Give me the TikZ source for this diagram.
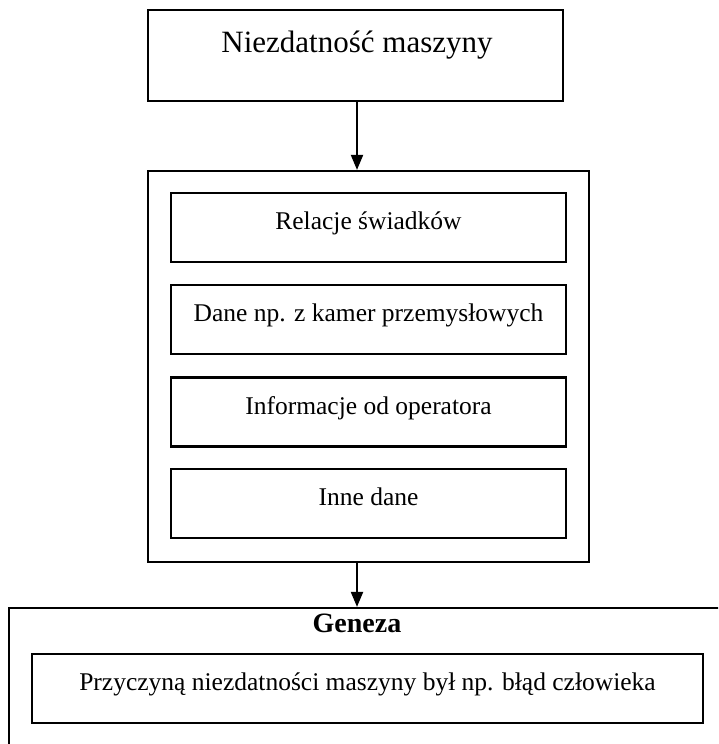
\documentclass[tikz,border=0pt]{standalone}
\usepackage{fontspec}
\setmainfont{Liberation Serif}
\usetikzlibrary{arrows.meta}
\tikzset{
  box/.style={draw, line width=2.2pt, rectangle, inner sep=0pt},
  link/.style={line width=2pt, -{Triangle[width=12pt,length=15pt]}},
  txt/.style={anchor=base, inner sep=0pt, font=\fontsize{25.5}{30}\selectfont},
}
\begin{document}
\begin{tikzpicture}[x=1pt,y=-1pt]
\useasboundingbox (0,0) rectangle (718,744);
\fill[white] (0,0) rectangle (718,744);
\clip (0,0) rectangle (718,744);

% top event
\node[box, minimum width=415pt, minimum height=91pt] (fail) at (355.5,55.5) {};
\node[txt, font=\fontsize{31}{36}\selectfont] (failt) at (357,52) {Niezdatność maszyny};

% evidence group
\node[box, minimum width=441pt, minimum height=391pt] (evid) at (368.5,366.5) {};
\node[box, minimum width=395pt, minimum height=69pt] (e1) at (368.5,227.5) {};
\node[box, minimum width=395pt, minimum height=69pt] (e2) at (368.5,319.5) {};
\node[box, minimum width=395pt, minimum height=69pt] (e3) at (368.5,412) {};
\node[box, minimum width=395pt, minimum height=69pt] (e4) at (368.5,503.5) {};
\node[txt] (e1t) at (368.5,229) {Relacje świadków};
\node[txt] (e2t) at (368.5,321) {Dane np. z kamer przemysłowych};
\node[txt] (e3t) at (368.5,414) {Informacje od operatora};
\node[txt] (e4t) at (368.5,505) {Inne dane};

% genesis
\node[box, minimum width=740pt, minimum height=200pt] (gen) at (379,708) {};
\node[txt, font=\bfseries\fontsize{28}{32}\selectfont] (gent) at (357,632) {Geneza};
\node[box, minimum width=671pt, minimum height=69pt] (cause) at (367.5,688.5) {};
\node[txt] (causet) at (367.5,690) {Przyczyną niezdatności maszyny był np. błąd człowieka};

% connectors
\draw[link] ([xshift=1.5pt]fail.south) -- ([xshift=1.5pt]fail.south |- evid.north);
\draw[link] ([xshift=1.5pt]fail.south |- evid.south) -- ([xshift=1.5pt]fail.south |- gen.north);
\end{tikzpicture}
\end{document}
